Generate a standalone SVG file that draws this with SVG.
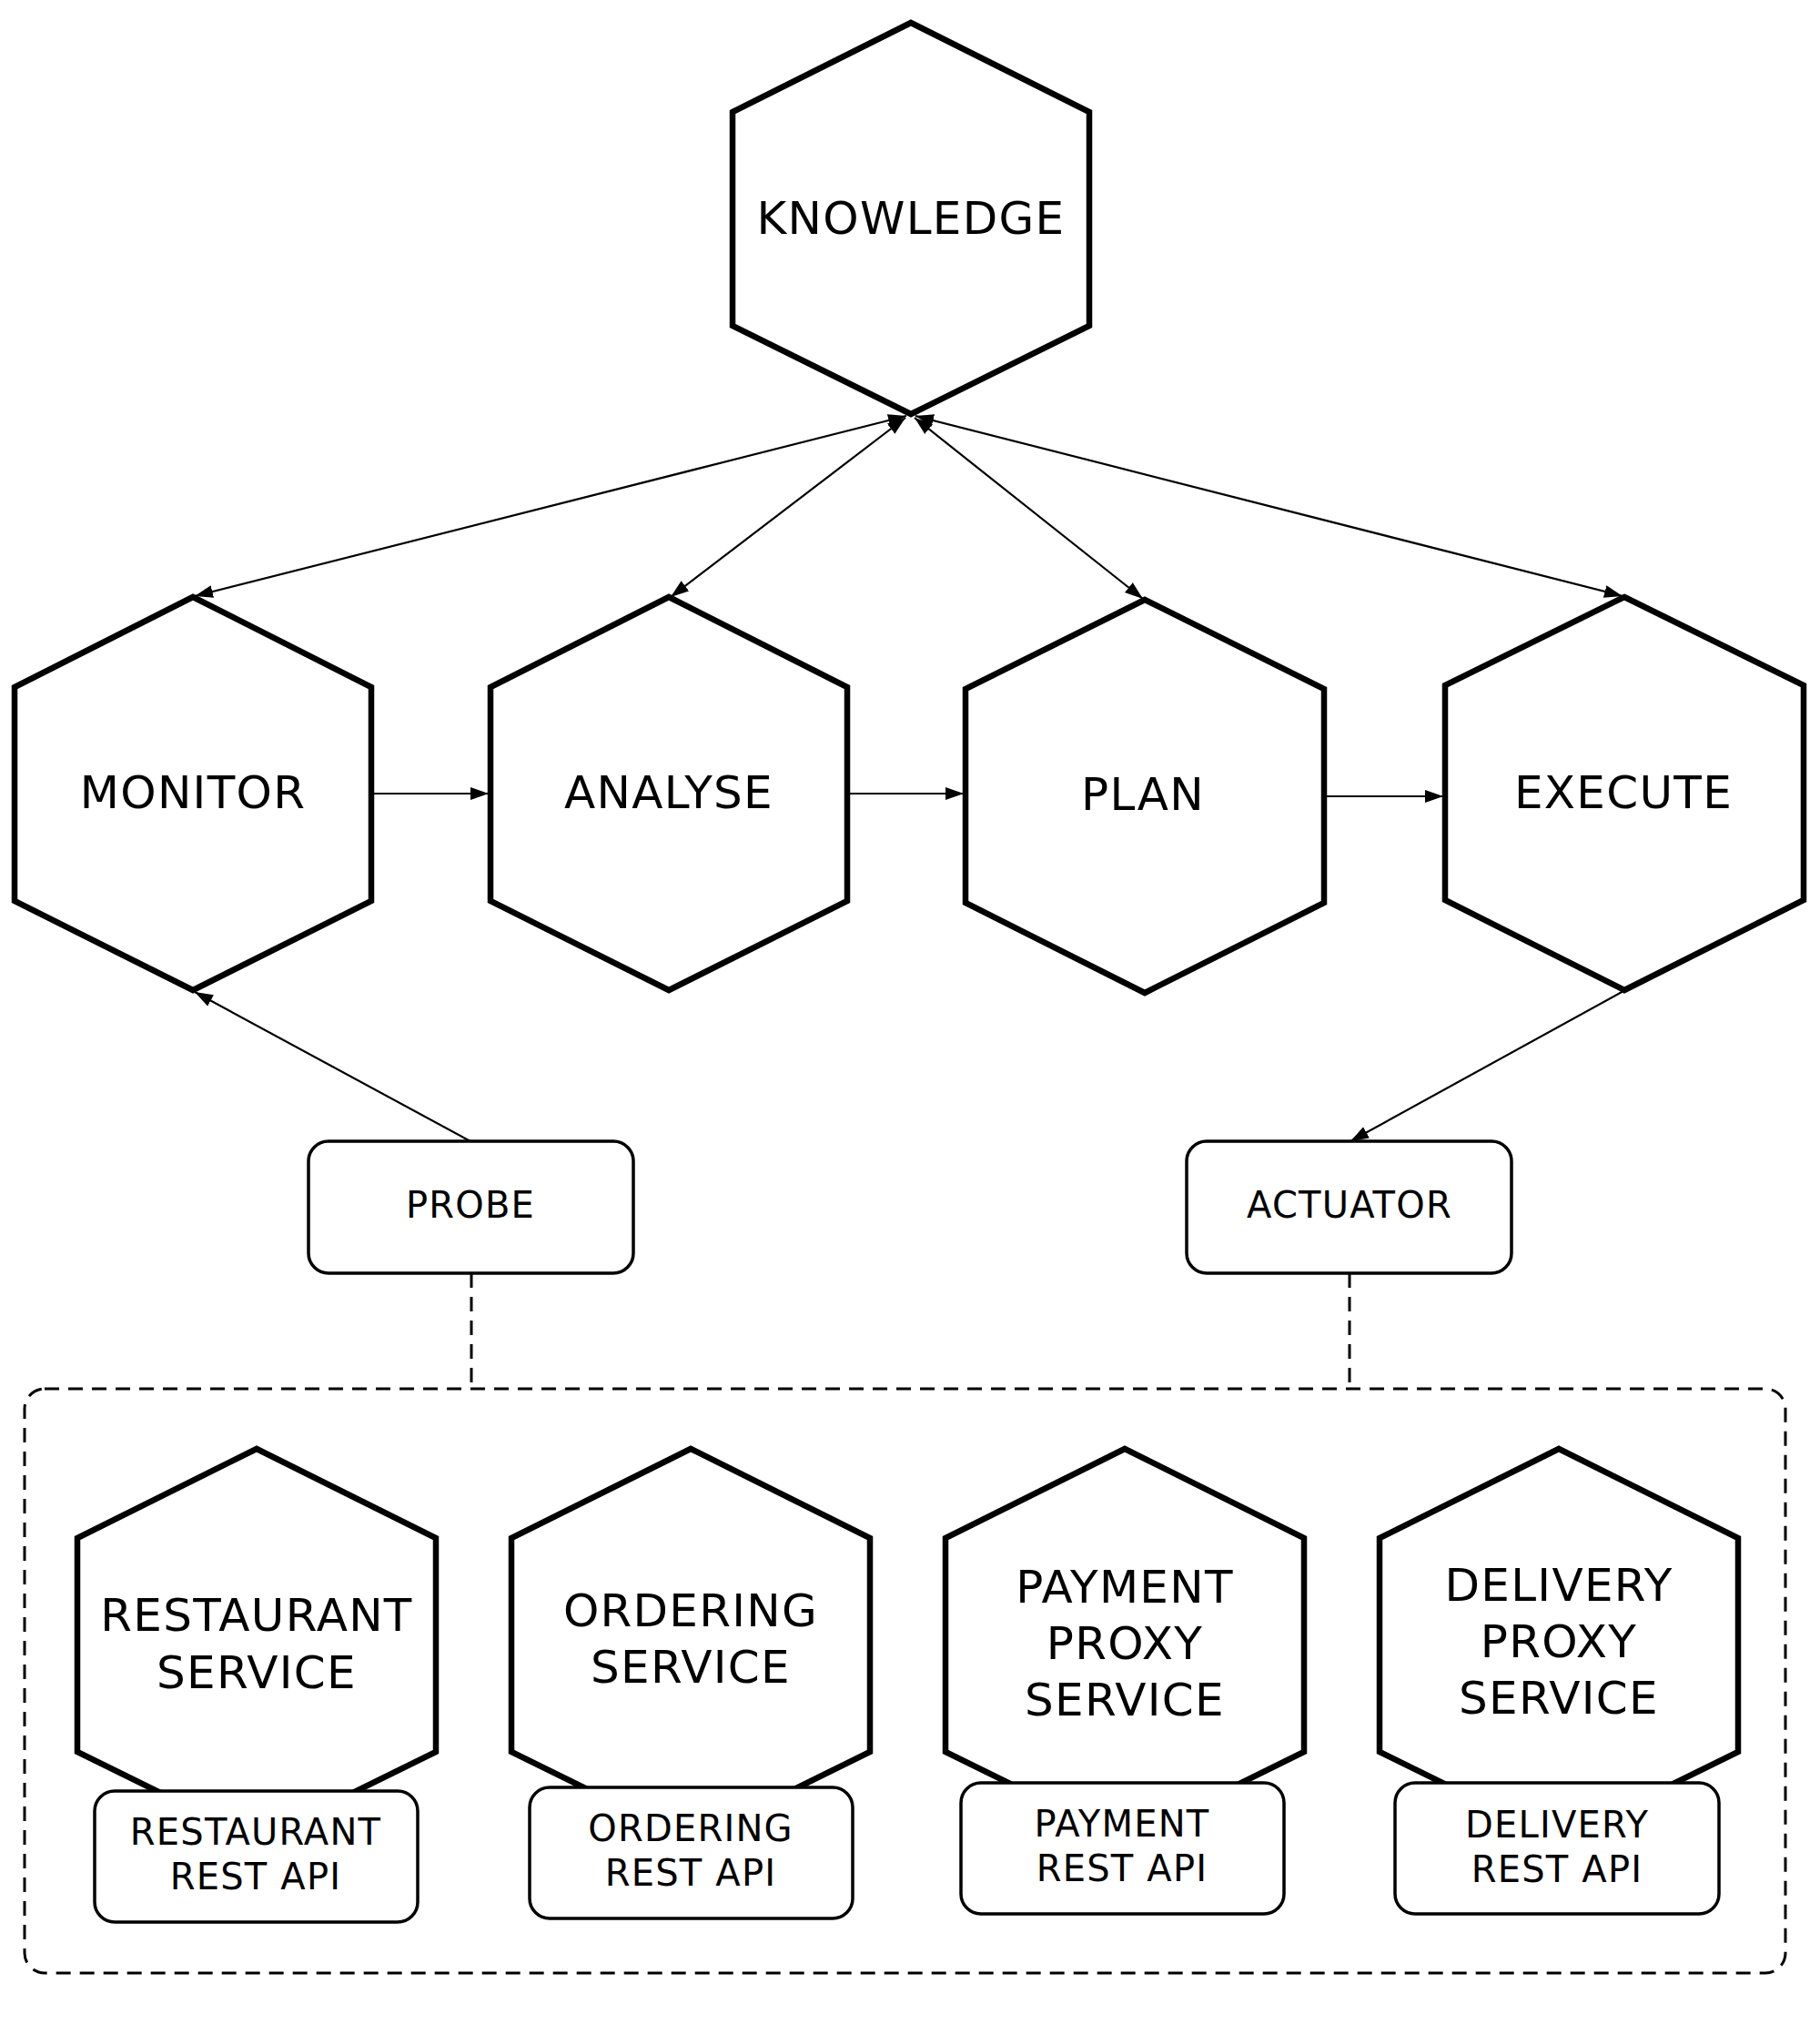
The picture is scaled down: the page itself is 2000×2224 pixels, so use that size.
<svg xmlns="http://www.w3.org/2000/svg" width="2000" height="2224" viewBox="0 0 2000 2224">
<defs>
<style>
.hex{fill:#fff;stroke:#000;stroke-width:6.5;stroke-linejoin:miter;stroke-miterlimit:10}
.box{fill:#fff;stroke:#000;stroke-width:3.5}
.cont{fill:none;stroke:#000;stroke-width:3;stroke-dasharray:16 10}
.dash{fill:none;stroke:#000;stroke-width:3;stroke-dasharray:16 10}
.edge{fill:none;stroke:#000;stroke-width:2.2}
text{font-family:"DejaVu Sans","Liberation Sans",sans-serif;fill:#000;text-anchor:middle}
.big{font-size:50px;letter-spacing:1.3px}
.small{font-size:40px;letter-spacing:1.2px}
</style>
<marker id="arr" markerUnits="userSpaceOnUse" markerWidth="22" markerHeight="16" refX="20" refY="7" orient="auto-start-reverse" viewBox="0 0 22 16">
<path d="M0,0 L20,7 L0,14 z" fill="#000"/>
</marker>
</defs>
<rect width="2000" height="2224" fill="#fff"/>

<rect id="container" class="cont" x="27" y="1526" width="1935" height="642" rx="22"/>

<g id="connectors">
<line class="edge" x1="408" y1="872" x2="537" y2="872" marker-end="url(#arr)"/>
<line class="edge" x1="931" y1="872" x2="1059" y2="872" marker-end="url(#arr)"/>
<line class="edge" x1="1455" y1="875" x2="1586" y2="875" marker-end="url(#arr)"/>
<line class="edge" x1="996" y1="457" x2="214" y2="655" marker-start="url(#arr)" marker-end="url(#arr)"/>
<line class="edge" x1="995" y1="459" x2="737" y2="656" marker-start="url(#arr)" marker-end="url(#arr)"/>
<line class="edge" x1="1005" y1="459" x2="1256" y2="658" marker-start="url(#arr)" marker-end="url(#arr)"/>
<line class="edge" x1="1006" y1="457" x2="1783" y2="655" marker-start="url(#arr)" marker-end="url(#arr)"/>
<line class="edge" x1="517" y1="1254" x2="214" y2="1090" marker-end="url(#arr)"/>
<line class="edge" x1="1784" y1="1089" x2="1484" y2="1254" marker-end="url(#arr)"/>
<line class="dash" x1="518" y1="1399" x2="518" y2="1526"/>
<line class="dash" x1="1483" y1="1399" x2="1483" y2="1526"/>
</g>

<g id="knowledge">
<polygon class="hex" points="1001,25 1197,123 1197,358 1001,455 805,358 805,123"/>
<text class="big" x="1001" y="257">KNOWLEDGE</text>
</g>
<g id="monitor">
<polygon class="hex" points="212,656 408,755 408,990 212,1088 16,990 16,755"/>
<text class="big" x="212" y="888">MONITOR</text>
</g>
<g id="analyse">
<polygon class="hex" points="735,656 931,755 931,990 735,1088 539,990 539,755"/>
<text class="big" x="735" y="888">ANALYSE</text>
</g>
<g id="plan">
<polygon class="hex" points="1258,659 1455,757 1455,992 1258,1091 1061,992 1061,757"/>
<text class="big" x="1256" y="890">PLAN</text>
</g>
<g id="execute">
<polygon class="hex" points="1785,656 1982,753 1982,989 1785,1088 1588,989 1588,753"/>
<text class="big" x="1784" y="888">EXECUTE</text>
</g>

<g id="probe">
<rect class="box" x="339" y="1254" width="357" height="145" rx="22"/>
<text class="small" x="517" y="1338">PROBE</text>
</g>
<g id="actuator">
<rect class="box" x="1304" y="1254" width="357" height="145" rx="22"/>
<text class="small" x="1483" y="1338">ACTUATOR</text>
</g>

<g id="restaurant-service">
<polygon class="hex" points="282,1592 479,1690 479,1925 282,2022 85,1925 85,1690"/>
<text class="big" x="282" y="1792">RESTAURANT</text>
<text class="big" x="282" y="1855">SERVICE</text>
</g>
<g id="ordering-service">
<polygon class="hex" points="759,1592 956,1690 956,1925 759,2022 562,1925 562,1690"/>
<text class="big" x="759" y="1787">ORDERING</text>
<text class="big" x="759" y="1849">SERVICE</text>
</g>
<g id="payment-service">
<polygon class="hex" points="1236,1592 1433,1690 1433,1925 1236,2022 1039,1925 1039,1690"/>
<text class="big" x="1236" y="1761">PAYMENT</text>
<text class="big" x="1236" y="1823">PROXY</text>
<text class="big" x="1236" y="1885">SERVICE</text>
</g>
<g id="delivery-service">
<polygon class="hex" points="1713,1592 1910,1690 1910,1925 1713,2022 1516,1925 1516,1690"/>
<text class="big" x="1713" y="1759">DELIVERY</text>
<text class="big" x="1713" y="1821">PROXY</text>
<text class="big" x="1713" y="1883">SERVICE</text>
</g>

<g id="restaurant-api">
<rect class="box" x="104" y="1968" width="355" height="144" rx="22"/>
<text class="small" x="281" y="2027">RESTAURANT</text>
<text class="small" x="281" y="2076">REST API</text>
</g>
<g id="ordering-api">
<rect class="box" x="582" y="1964" width="355" height="144" rx="22"/>
<text class="small" x="759" y="2023">ORDERING</text>
<text class="small" x="759" y="2072">REST API</text>
</g>
<g id="payment-api">
<rect class="box" x="1056" y="1959" width="355" height="144" rx="22"/>
<text class="small" x="1233" y="2018">PAYMENT</text>
<text class="small" x="1233" y="2067">REST API</text>
</g>
<g id="delivery-api">
<rect class="box" x="1533" y="1959" width="356" height="144" rx="22"/>
<text class="small" x="1711" y="2019">DELIVERY</text>
<text class="small" x="1711" y="2068">REST API</text>
</g>
</svg>
